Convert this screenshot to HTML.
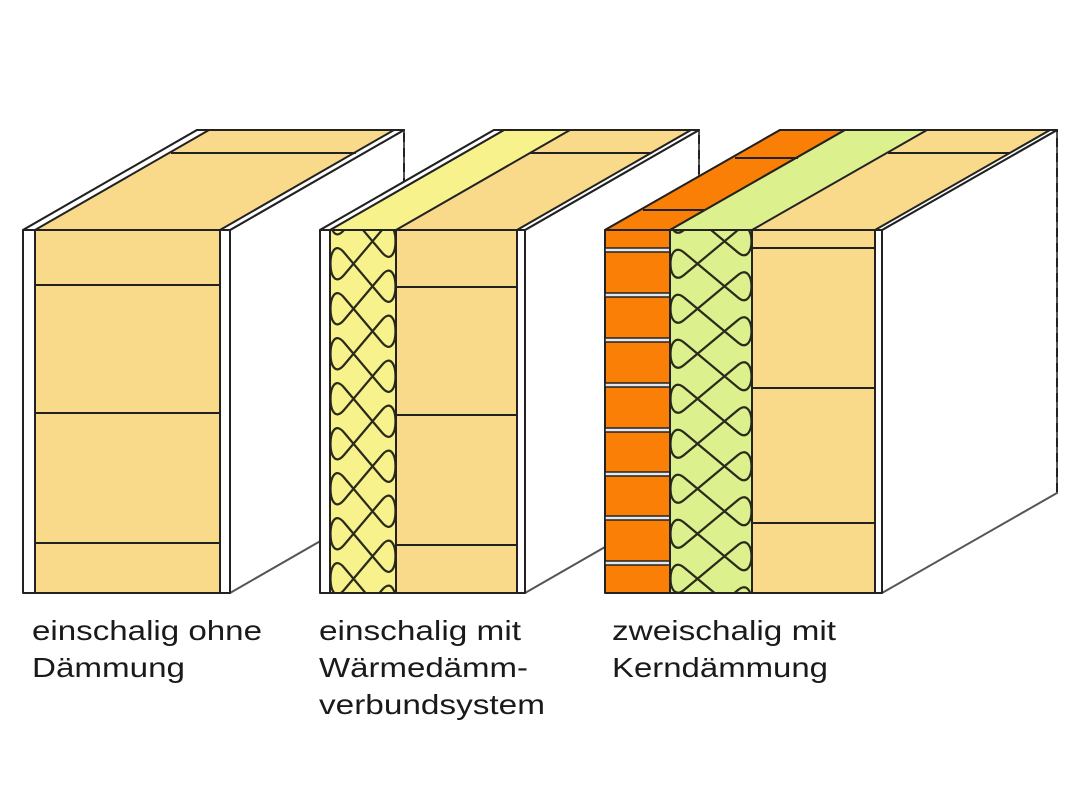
<!DOCTYPE html>
<html><head><meta charset="utf-8"><style>
html,body{margin:0;padding:0;background:#fff;}
svg{display:block}
text{font-family:"Liberation Sans",Arial,sans-serif;font-size:28px;fill:#1a1a1a}
</style></head><body>
<svg id="s" width="1078" height="808" viewBox="0 0 1078 808" xmlns="http://www.w3.org/2000/svg">
<g stroke="#222" stroke-width="2" stroke-linejoin="round">
<!-- Block 1 -->
<polygon points="230,230 404,130 404,493 230,593" fill="#fff" stroke="#555"/>
<polygon points="23,230 197,130 404,130 230,230" fill="#F9DA8B"/>
<polygon points="23,230 197,130 209,130 35,230" fill="#fff"/>
<polygon points="220,230 394,130 404,130 230,230" fill="#fff"/>
<line x1="171" y1="153" x2="356" y2="153"/>
<rect x="23" y="230" width="12" height="363" fill="#fff"/>
<rect x="35" y="230" width="185" height="363" fill="#F9DA8B"/>
<rect x="220" y="230" width="10" height="363" fill="#fff"/>
<line x1="35" y1="285" x2="220" y2="285"/><line x1="35" y1="413" x2="220" y2="413"/><line x1="35" y1="543" x2="220" y2="543"/>
<path d="M197,130 H404 V190" fill="none" stroke-dasharray="9,6"/>

<!-- Block 2 -->
<polygon points="525,230 699,130 699,493 525,593" fill="#fff" stroke="#555"/>
<polygon points="320,230 494,130 699,130 525,230" fill="#F9DA8B"/>
<polygon points="330,230 504,130 570,130 396,230" fill="#F8F28C"/>
<polygon points="320,230 494,130 504,130 330,230" fill="#fff"/>
<polygon points="517,230 691,130 699,130 525,230" fill="#fff"/>
<line x1="530" y1="153" x2="652" y2="153"/>
<rect x="320" y="230" width="10" height="363" fill="#fff"/>
<rect x="330" y="230" width="66" height="363" fill="#F8F28C"/>
<rect x="396" y="230" width="121" height="363" fill="#F9DA8B"/>
<rect x="517" y="230" width="8" height="363" fill="#fff"/>
<line x1="396" y1="287" x2="517" y2="287"/><line x1="396" y1="415" x2="517" y2="415"/><line x1="396" y1="545" x2="517" y2="545"/>
<g id="ins2"></g>
<path d="M494,130 H699 V190" fill="none" stroke-dasharray="9,6"/>

<!-- Block 3 -->
<polygon points="882,230 1057,130 1057,493 882,593" fill="#fff" stroke="#555"/>
<polygon points="605,230 780,130 1057,130 882,230" fill="#F9DA8B"/>
<polygon points="605,230 780,130 845,130 670,230" fill="#F97F07"/>
<polygon points="670,230 845,130 927,130 752,230" fill="#DCF08E"/>
<polygon points="875,230 1050,130 1057,130 882,230" fill="#fff"/>
<line x1="643" y1="210" x2="705" y2="210"/><line x1="735" y1="158" x2="798" y2="158"/>
<line x1="888" y1="153" x2="1010" y2="153"/>
<rect x="605" y="230" width="65" height="363" fill="#F97F07"/>
<g id="mortar"></g>
<rect x="670" y="230" width="82" height="363" fill="#DCF08E"/>
<rect x="752" y="230" width="123" height="363" fill="#F9DA8B"/>
<rect x="875" y="230" width="7" height="363" fill="#fff"/>
<line x1="752" y1="248" x2="875" y2="248"/><line x1="752" y1="388" x2="875" y2="388"/><line x1="752" y1="523" x2="875" y2="523"/>
<g id="ins3"></g>
<path d="M780,130 H1057 V493" fill="none" stroke-dasharray="9,6"/>
</g>
<text x="32" y="640" textLength="230" lengthAdjust="spacingAndGlyphs">einschalig ohne</text>
<text x="32" y="677" textLength="153" lengthAdjust="spacingAndGlyphs">Dämmung</text>
<text x="319" y="640" textLength="202" lengthAdjust="spacingAndGlyphs">einschalig mit</text>
<text x="319" y="677" textLength="209" lengthAdjust="spacingAndGlyphs">Wärmedämm-</text>
<text x="319" y="714" textLength="226" lengthAdjust="spacingAndGlyphs">verbundsystem</text>
<text x="612" y="640" textLength="224" lengthAdjust="spacingAndGlyphs">zweischalig mit</text>
<text x="612" y="677" textLength="216" lengthAdjust="spacingAndGlyphs">Kerndämmung</text>
</svg>
<script>
var NS="http://www.w3.org/2000/svg";
function ins(id,a,b,y0,y1,d){
  var g=document.getElementById(id);
  var cp=document.createElementNS(NS,"clipPath");cp.id=id+"c";
  var rc=document.createElementNS(NS,"rect");rc.setAttribute("x",a);rc.setAttribute("y",y0);rc.setAttribute("width",b-a);rc.setAttribute("height",y1-y0);
  cp.appendChild(rc);g.appendChild(cp);
  var L=a+14,R=b-14,dx=R-L,kx=18,ky=kx*2*d/dx;
  var y=y0-3*d,s="M"+L+","+y;
  while(y<y1+2*d){
    s+=" L"+R+","+(y+2*d);
    s+=" C"+(R+kx)+","+(y+2*d+ky)+" "+(R+kx)+","+(y+d-ky)+" "+R+","+(y+d);
    s+=" L"+L+","+(y+3*d);
    s+=" C"+(L-kx)+","+(y+3*d+ky)+" "+(L-kx)+","+(y+2*d-ky)+" "+L+","+(y+2*d);
    y+=2*d;
  }
  var p=document.createElementNS(NS,"path");p.setAttribute("d",s);p.setAttribute("fill","none");
  p.setAttribute("stroke","#2a2a1a");p.setAttribute("stroke-width","2.2");p.setAttribute("clip-path","url(#"+id+"c)");
  g.appendChild(p);
  var o=document.createElementNS(NS,"rect");o.setAttribute("x",a);o.setAttribute("y",y0);o.setAttribute("width",b-a);o.setAttribute("height",y1-y0);o.setAttribute("fill","none");
  g.appendChild(o);
}
ins("ins2",330,396,230,593,22.5);
ins("ins3",670,752,230,593,22.5);
var m=document.getElementById("mortar");
[250,295,340,385,430,474,518,563].forEach(function(y){
  var r=document.createElementNS(NS,"rect");r.setAttribute("x",605);r.setAttribute("y",y-2);r.setAttribute("width",65);r.setAttribute("height",4);
  r.setAttribute("fill","#e6e8f0");r.setAttribute("stroke-width","1.5");m.appendChild(r);
});
</script>
</body></html>
